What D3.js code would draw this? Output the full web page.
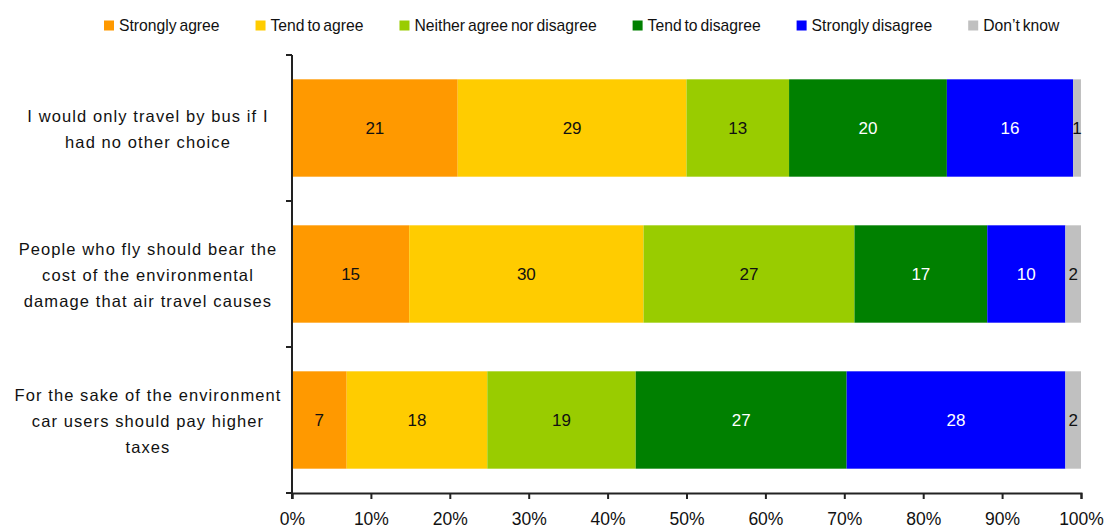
<!DOCTYPE html>
<html>
<head>
<meta charset="utf-8">
<script src="https://cdn.jsdelivr.net/npm/d3@7"></script>
<style>
  html, body { margin: 0; padding: 0; background: #fff; }
  svg { display: block; font-family: "Liberation Sans", Arial, sans-serif; }
</style>
</head>
<body>
<svg id="chart" width="1107" height="529"></svg>
<script>
// Survey statements (each split into the lines they are wrapped on)
const statements = [
  "I would only travel by bus if I had no other choice",
  "People who fly should bear the cost of the environmental damage that air travel causes",
  "For the sake of the environment car users should pay higher taxes"
];
const statementLines = [
  ["I would only travel by bus if I", "had no other choice"],
  ["People who fly should bear the", "cost of the environmental", "damage that air travel causes"],
  ["For the sake of the environment", "car users should pay higher", "taxes"]
];

// Response options, in stacking order
const responses = ["Strongly agree", "Tend to agree", "Neither agree nor disagree",
                   "Tend to disagree", "Strongly disagree", "Don\u2019t know"];
const responseColors = ["#FF9900", "#FFCC00", "#99CC00", "#008000", "#0000FF", "#C0C0C0"];
const labelColors = ["#111", "#111", "#111", "#fff", "#fff", "#111"];

// Percentage of respondents per statement, one array per response
const stronglyAgree    = [21, 15, 7];
const tendToAgree      = [29, 30, 18];
const neither          = [13, 27, 19];
const tendToDisagree   = [20, 17, 27];
const stronglyDisagree = [16, 10, 28];
const dontKnow         = [1, 2, 2];

const tickValues = [0, 0.1, 0.2, 0.3, 0.4, 0.5, 0.6, 0.7, 0.8, 0.9, 1.0];

const seriesValues = [stronglyAgree, tendToAgree, neither, tendToDisagree, stronglyDisagree, dontKnow];
const rows = statements.map((s, i) => {
  const r = { statement: s };
  responses.forEach((k, j) => { r[k] = seriesValues[j][i]; });
  return r;
});

const svg = d3.select("#chart");
const plot = { left: 292, right: 1081, top: 55, bottom: 493 };

const x = d3.scaleLinear().domain([0, 1]).range([plot.left, plot.right]);
const y = d3.scaleBand().domain(statements).range([plot.top, plot.bottom])
  .paddingInner(0.333).paddingOuter(0.1665);

// Each row is shown as shares of 100%
const stacked = d3.stack().keys(responses).offset(d3.stackOffsetExpand)(rows);

// Bars
const layers = svg.append("g").selectAll("g").data(stacked).join("g")
  .attr("fill", (d, i) => responseColors[i]);
layers.selectAll("rect").data(d => d).join("rect")
  .attr("x", d => x(d[0]))
  .attr("y", d => y(d.data.statement))
  .attr("width", d => x(d[1]) - x(d[0]))
  .attr("height", y.bandwidth());

// Value labels inside segments
svg.append("g").selectAll("g").data(stacked).join("g")
  .attr("fill", (d, i) => labelColors[i])
  .selectAll("text").data(d => d.map(v => ({ v, key: d.key }))).join("text")
  .attr("x", d => (x(d.v[0]) + x(d.v[1])) / 2)
  .attr("y", d => y(d.v.data.statement) + y.bandwidth() / 2)
  .attr("dy", "0.36em")
  .attr("text-anchor", "middle")
  .style("font-size", "17px")
  .text(d => d.v.data[d.key]);

// X axis
const xAxis = svg.append("g")
  .attr("transform", `translate(0,${plot.bottom})`)
  .call(d3.axisBottom(x).tickValues(tickValues).tickFormat(d3.format(".0%")).tickSize(6).tickSizeOuter(6).tickPadding(14));
xAxis.select(".domain").attr("stroke", "#222").attr("stroke-width", 2);
xAxis.selectAll(".tick line").attr("stroke", "#222").attr("stroke-width", 2);
xAxis.selectAll(".tick text").attr("fill", "#111").style("font-size", "17.5px")
  .style("font-family", "\"Liberation Sans\", Arial, sans-serif");

// Y axis: vertical line with ticks on category boundaries
const yAxis = svg.append("g");
yAxis.append("line")
  .attr("x1", plot.left).attr("x2", plot.left)
  .attr("y1", plot.top).attr("y2", plot.bottom + 6)
  .attr("stroke", "#222").attr("stroke-width", 2);
const gap = y.step() * y.paddingInner() / 2;
const boundaries = [plot.top].concat(statements.map(s => y(s) + y.bandwidth() + gap));
boundaries[boundaries.length - 1] = plot.bottom;
yAxis.selectAll("line.tick").data(boundaries).join("line")
  .attr("class", "tick")
  .attr("x1", plot.left - 6).attr("x2", plot.left)
  .attr("y1", d => d).attr("y2", d => d)
  .attr("stroke", "#222").attr("stroke-width", 2);

// Category labels, wrapped and centred
const lineH = 26;
const catLabels = svg.append("g").selectAll("text").data(statements).join("text")
  .attr("text-anchor", "middle")
  .attr("fill", "#111")
  .style("font-size", "16.5px")
  .style("letter-spacing", "1.1px")
  .attr("y", (d, i) => y(d) + y.bandwidth() / 2 + 1.5 - (statementLines[i].length - 1) * lineH / 2);
catLabels.each(function (d, i) {
  const t = d3.select(this);
  const cy = +t.attr("y");
  statementLines[i].forEach((ln, k) => {
    t.append("tspan").attr("x", 148).attr("y", cy + k * lineH).attr("dy", "0.36em").text(ln);
  });
});

// Legend
const legend = svg.append("g").attr("transform", "translate(104,25.5)");
let lx = 0;
responses.forEach((r, i) => {
  const g = legend.append("g").attr("transform", `translate(${lx},0)`);
  g.append("rect").attr("x", 0).attr("y", -5).attr("width", 10).attr("height", 10).attr("fill", responseColors[i]);
  const t = g.append("text").attr("x", 15).attr("dy", "0.36em").attr("fill", "#111")
    .style("font-size", "15.7px").style("word-spacing", "-1.5px").text(r);
  lx += 15 + t.node().getComputedTextLength() + 36;
});
</script>
</body>
</html>
